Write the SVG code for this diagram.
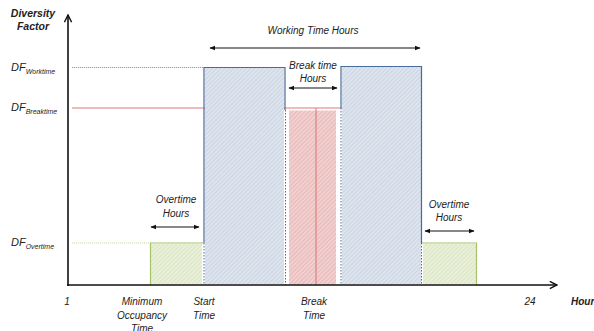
<svg xmlns="http://www.w3.org/2000/svg" width="594" height="331" viewBox="0 0 594 331">
<style>
text{font-family:"Liberation Sans",Arial,sans-serif;font-style:italic;font-size:10px;fill:#222}
.lbl{text-anchor:middle}
.axis{stroke:#111;stroke-width:1.6;fill:none}
.arr{stroke:#111;stroke-width:1.1;fill:none;marker-start:url(#ah);marker-end:url(#ah)}
.blue{stroke:#4a6a9c;stroke-width:1.2;fill:none}
.bdot{stroke:#4a6a9c;stroke-width:1;fill:none;stroke-dasharray:1.5 1.5}
.grn{stroke:#a6c26b;stroke-width:1.2;fill:none}
.red{stroke:#dd7a7a;stroke-width:1.1;fill:none}
.sub{font-size:7px}
.df{font-size:11px}
</style>
<defs>
<pattern id="pb" width="3" height="3" patternUnits="userSpaceOnUse" patternTransform="rotate(45)">
<rect width="3" height="3" fill="#e0e6ef"/><rect width="1.2" height="3" fill="#cbd5e2"/>
</pattern>
<pattern id="pr" width="3" height="3" patternUnits="userSpaceOnUse" patternTransform="rotate(45)">
<rect width="3" height="3" fill="#f3d3d3"/><rect width="1.2" height="3" fill="#e8b8b8"/>
</pattern>
<pattern id="pg" width="3" height="3" patternUnits="userSpaceOnUse" patternTransform="rotate(45)">
<rect width="3" height="3" fill="#ebf1dc"/><rect width="1.2" height="3" fill="#dbe6c3"/>
</pattern>
<marker id="ah" viewBox="0 0 10 10" refX="9" refY="5" markerWidth="6" markerHeight="6" orient="auto-start-reverse" markerUnits="userSpaceOnUse">
<path d="M0,1 L10,5 L0,9 z" fill="#111"/>
</marker>
<marker id="ax" viewBox="0 0 10 10" refX="9" refY="5" markerWidth="9" markerHeight="9" orient="auto" markerUnits="userSpaceOnUse">
<path d="M1,1 L9,5 L1,9" fill="none" stroke="#111" stroke-width="1.6"/>
</marker>
</defs>

<g id="levels">
<line x1="72" y1="67.5" x2="204" y2="67.5" stroke="#6a86b4" stroke-width="0.8" stroke-dasharray="1.2 0.8"/>
<line x1="72" y1="108" x2="343" y2="108" class="red"/>
<line x1="72" y1="243" x2="150" y2="243" stroke="#b9d08a" stroke-width="0.8" stroke-dasharray="1.2 0.8"/>
</g>

<g id="overtime-left">
<rect x="151" y="244" width="51" height="40" fill="url(#pg)"/>
<path d="M150.5,285 V243 H203" class="grn"/>
</g>

<g id="worktime-left">
<rect x="205" y="68" width="79" height="216" fill="url(#pb)"/>
<path d="M204,243 V67.5 H285 V110" class="blue"/>
<line x1="204" y1="243" x2="204" y2="285" class="bdot"/>
<line x1="285.5" y1="110" x2="285.5" y2="285" class="bdot"/>
</g>

<g id="breaktime">
<rect x="289" y="110.5" width="47" height="174" fill="url(#pr)"/>
<line x1="316" y1="108" x2="316" y2="285" class="red"/>
</g>

<g id="worktime-right">
<rect x="342" y="67" width="79" height="217" fill="url(#pb)"/>
<path d="M341,108 V66.5 H421.5 V243" class="blue"/>
<line x1="341" y1="108" x2="341" y2="285" class="bdot"/>
<line x1="421.5" y1="243" x2="421.5" y2="285" class="bdot"/>
</g>

<g id="overtime-right">
<rect x="423" y="244" width="53" height="40" fill="url(#pg)"/>
<path d="M422,243 H476.5 V285" class="grn"/>
</g>

<g id="axes">
<line x1="68" y1="286" x2="68" y2="15" class="axis" marker-end="url(#ax)"/>
<line x1="67" y1="285" x2="557" y2="285" class="axis" marker-end="url(#ax)"/>
</g>

<g id="connectors">
<line x1="210" y1="48" x2="420" y2="48" class="arr"/>
<line x1="289" y1="88" x2="337" y2="88" class="arr"/>
<line x1="151" y1="227" x2="199" y2="227" class="arr"/>
<line x1="425" y1="231" x2="474" y2="231" class="arr"/>
</g>

<g id="labels">
<text x="33" y="17" class="lbl" style="font-weight:bold;font-size:10.5px">Diversity</text>
<text x="33" y="30" class="lbl" style="font-weight:bold;font-size:10.5px">Factor</text>
<text x="11" y="71" class="df">DF<tspan class="sub" dy="2.5">Worktime</tspan></text>
<text x="11" y="111" class="df">DF<tspan class="sub" dy="2.5">Breaktime</tspan></text>
<text x="11" y="246" class="df">DF<tspan class="sub" dy="2.5">Overtime</tspan></text>
<text x="313" y="34" class="lbl">Working Time Hours</text>
<text x="313" y="69" class="lbl">Break time</text>
<text x="313" y="82" class="lbl">Hours</text>
<text x="176" y="203" class="lbl">Overtime</text>
<text x="176" y="217" class="lbl">Hours</text>
<text x="449" y="208" class="lbl">Overtime</text>
<text x="449" y="221" class="lbl">Hours</text>
<text x="67" y="305" class="lbl">1</text>
<text x="142" y="305" class="lbl">Minimum</text>
<text x="142" y="319" class="lbl">Occupancy</text>
<text x="142" y="332" class="lbl">Time</text>
<text x="204" y="305" class="lbl">Start</text>
<text x="204" y="319" class="lbl">Time</text>
<text x="314" y="305" class="lbl">Break</text>
<text x="314" y="319" class="lbl">Time</text>
<text x="530" y="305" class="lbl">24</text>
<text x="571" y="305" style="font-weight:bold">Hours</text>
</g>
</svg>
